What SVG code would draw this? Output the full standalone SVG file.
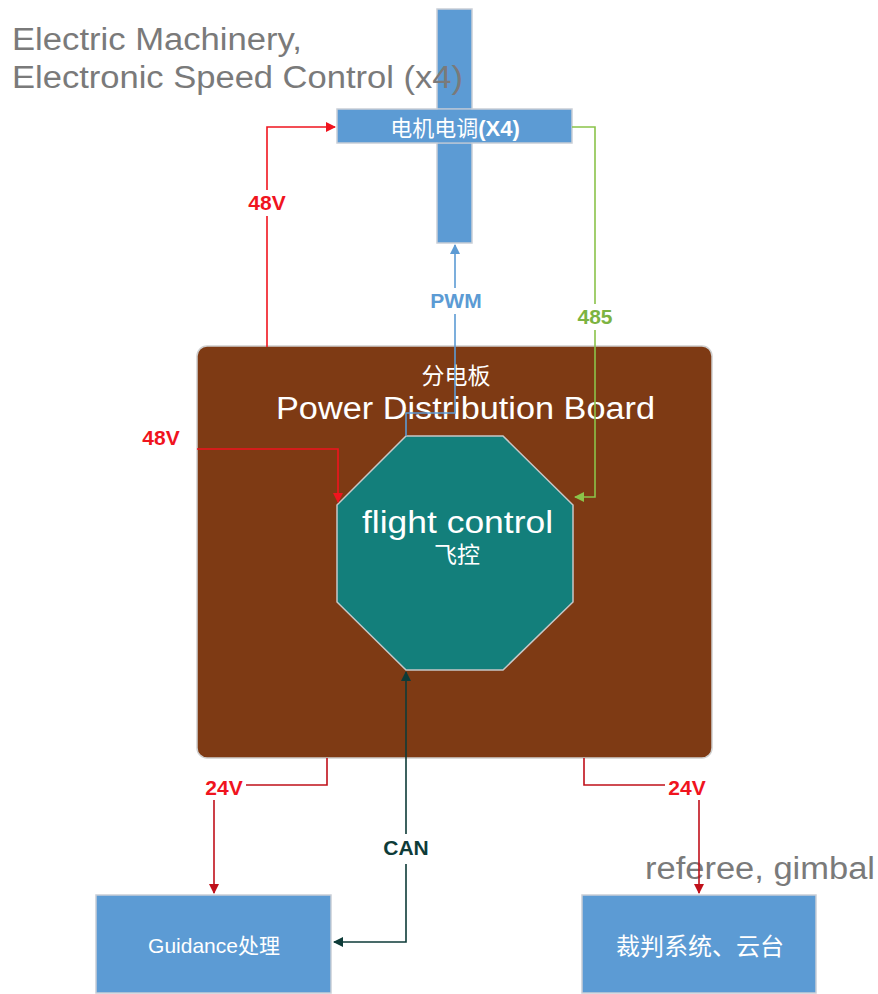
<svg xmlns="http://www.w3.org/2000/svg" width="878" height="994" viewBox="0 0 878 994">
<style>
text{font-family:"Liberation Sans","Noto Sans CJK SC",sans-serif}
.blue{fill:#5C9BD4;stroke:#C9CED6;stroke-width:1.5}
.wt{fill:#fff}
.gray{fill:#7A7A7A;font-size:31px}
.lbl{font-size:21px;font-weight:bold;text-anchor:middle}
.c{fill:none;stroke-width:1.6}
</style>
<defs>
<marker id="aRed" markerWidth="10" markerHeight="10" refX="9" refY="5" orient="auto" markerUnits="userSpaceOnUse" viewBox="0 0 10 10"><path d="M0,0 L10,5 L0,10 z" fill="#F0141E"/></marker>
<marker id="aDred" markerWidth="10" markerHeight="10" refX="9" refY="5" orient="auto" markerUnits="userSpaceOnUse" viewBox="0 0 10 10"><path d="M0,0 L10,5 L0,10 z" fill="#C0101A"/></marker>
<marker id="aGreen" markerWidth="10" markerHeight="10" refX="9" refY="5" orient="auto" markerUnits="userSpaceOnUse" viewBox="0 0 10 10"><path d="M0,0 L10,5 L0,10 z" fill="#8BC34A"/></marker>
<marker id="aBlue" markerWidth="10" markerHeight="10" refX="9" refY="5" orient="auto" markerUnits="userSpaceOnUse" viewBox="0 0 10 10"><path d="M0,0 L10,5 L0,10 z" fill="#5C9BD4"/></marker>
<marker id="aDark" markerWidth="10" markerHeight="10" refX="9" refY="5" orient="auto-start-reverse" markerUnits="userSpaceOnUse" viewBox="0 0 10 10"><path d="M0,0 L10,5 L0,10 z" fill="#0E3B38"/></marker>
</defs>
<rect width="878" height="994" fill="#fff"/>

<g id="board">
<rect x="197" y="346" width="515" height="412" rx="10" fill="#7E3A14" stroke="#D0D0D0" stroke-width="1.5"/>
<text x="456" y="384" class="wt" font-size="23" text-anchor="middle">分电板</text>
<text x="276" y="419" class="wt" font-size="31" textLength="379" lengthAdjust="spacingAndGlyphs">Power Distribution Board</text>
</g>

<g id="esc">
<rect x="437" y="9" width="35" height="234" class="blue"/>
<rect x="337" y="109" width="235" height="34" class="blue"/>
<rect x="437.8" y="109.8" width="33.4" height="32.4" fill="#5C9BD4"/>
<text x="455" y="136" class="wt" font-size="22" text-anchor="middle">电机电调<tspan font-weight="bold">(X4)</tspan></text>
</g>

<g id="fc">
<polygon points="406,436 503,436 573,505 573,602 503,670 406,670 337,602 337,505" fill="#137F7B" stroke="#C8C8C8" stroke-width="1.5"/>
<text x="362" y="533" class="wt" font-size="31" textLength="191" lengthAdjust="spacingAndGlyphs">flight control</text>
<text x="457" y="563" class="wt" font-size="23" text-anchor="middle">飞控</text>
</g>

<g id="guidance">
<rect x="96" y="895" width="235" height="98" class="blue"/>
<text x="214" y="953" class="wt" font-size="21" text-anchor="middle">Guidance处理</text>
</g>

<g id="referee">
<rect x="582" y="895" width="234" height="98" class="blue"/>
<text x="700" y="955" class="wt" font-size="24" text-anchor="middle">裁判系统、云台</text>
</g>

<text x="645" y="879" class="gray" textLength="230" lengthAdjust="spacingAndGlyphs">referee, gimbal</text>

<g id="connectors">
<path class="c" stroke="#F0141E" d="M267,347 V127 H335" marker-end="url(#aRed)"/>
<path class="c" stroke="#8BC34A" d="M572,127 H595 V497 H575" marker-end="url(#aGreen)"/>
<path class="c" stroke="#5C9BD4" d="M406,436 V413 H455 V245" marker-end="url(#aBlue)"/>
<path class="c" stroke="#F0141E" d="M197,449 H338 V502" marker-end="url(#aRed)"/>
<path class="c" stroke="#C0101A" d="M327,758 V785 H246"/>
<path class="c" stroke="#C0101A" d="M214,800 V893" marker-end="url(#aDred)"/>
<path class="c" stroke="#C0101A" d="M584,758 V785 H665"/>
<path class="c" stroke="#C0101A" d="M699,800 V893" marker-end="url(#aDred)"/>
<path class="c" stroke="#0E3B38" d="M406,672 V942 H334" marker-start="url(#aDark)" marker-end="url(#aDark)"/>
</g>

<g id="labels">
<rect x="246" y="190" width="42" height="26" fill="#fff"/>
<text x="267" y="210" class="lbl" fill="#F0141E">48V</text>
<rect x="428" y="288" width="55" height="26" fill="#fff"/>
<text x="456" y="308" class="lbl" fill="#5C9BD4">PWM</text>
<rect x="574" y="304" width="42" height="26" fill="#fff"/>
<text x="595" y="324" class="lbl" fill="#7CB342">485</text>
<text x="161" y="445" class="lbl" fill="#F0141E">48V</text>
<text x="224" y="795" class="lbl" fill="#F0141E">24V</text>
<text x="687" y="795" class="lbl" fill="#F0141E">24V</text>
<rect x="382" y="834" width="48" height="30" fill="#fff"/>
<text x="406" y="855" class="lbl" fill="#0E3B38">CAN</text>
</g>

<text class="gray"><tspan x="12" y="50" textLength="290" lengthAdjust="spacingAndGlyphs">Electric Machinery,</tspan></text>
<text class="gray"><tspan x="12" y="88" textLength="451" lengthAdjust="spacingAndGlyphs">Electronic Speed Control (x4)</tspan></text>
</svg>
